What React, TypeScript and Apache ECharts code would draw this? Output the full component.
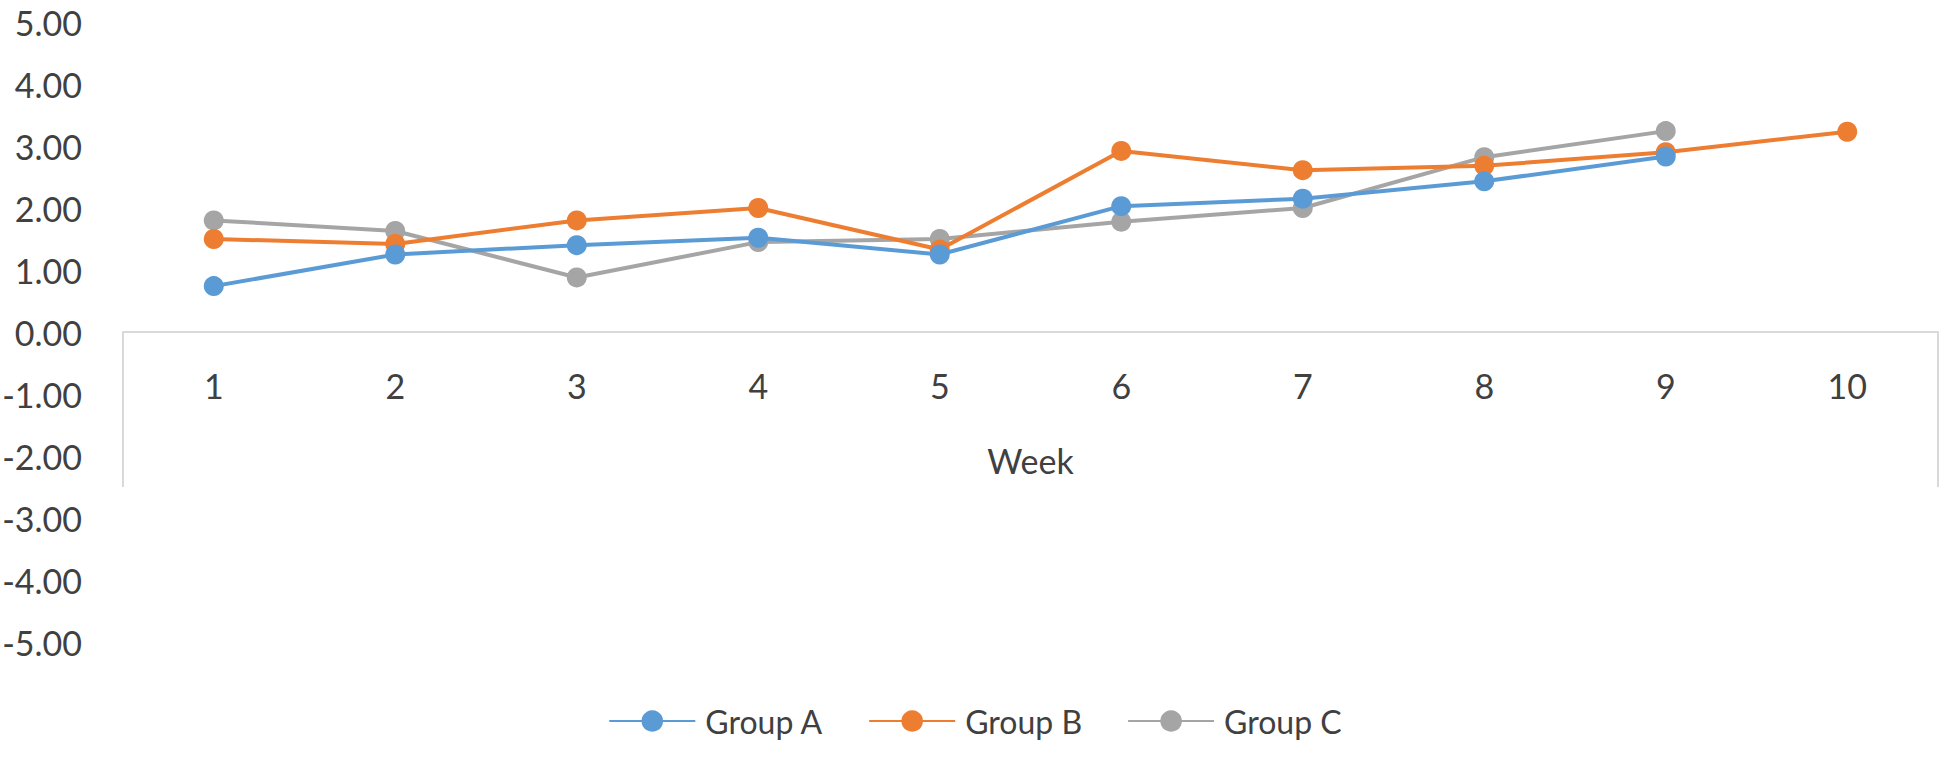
import React, { useEffect, useRef } from "react";
import * as echarts from "echarts";

const weeks = ["1", "2", "3", "4", "5", "6", "7", "8", "9", "10"];
const groupA = [0.74, 1.25, 1.4, 1.52, 1.25, 2.03, 2.15, 2.43, 2.83];
const groupB = [1.5, 1.42, 1.8, 2.0, 1.33, 2.92, 2.61, 2.68, 2.9, 3.23];
const groupC = [1.8, 1.63, 0.88, 1.45, 1.5, 1.78, 2.0, 2.82, 3.24];
const seriesNames = ["Group A", "Group B", "Group C"];
const colors = ["#5B9BD5", "#ED7D31", "#A5A5A5"];

const W = 1950;
const H = 757;
const GRID_LEFT = 123;
const GRID_RIGHT = 12;
const GRID_TOP = 22;
const GRID_BOTTOM = 115;
const FONT = "Lato, 'Open Sans', sans-serif";
const TEXT_COLOR = "#404040";
const AXIS_COLOR = "#D9D9D9";

export default function App() {
  const ref = useRef<HTMLDivElement>(null);
  useEffect(() => {
    document.body.style.margin = "0";
    if (!ref.current) return;
    const chart = echarts.init(ref.current, null, { renderer: "svg" });
    const data = [groupA, groupB, groupC];
    chart.setOption({
      animation: false,
      backgroundColor: "#ffffff",
      textStyle: { fontFamily: FONT },
      grid: {
        left: GRID_LEFT,
        right: GRID_RIGHT,
        top: GRID_TOP,
        bottom: GRID_BOTTOM,
        containLabel: false,
        outerBoundsMode: "none",
      },
      legend: {
        data: seriesNames,
        left: "center",
        top: 700,
        itemWidth: 86,
        itemHeight: 27,
        itemGap: 45,
        textStyle: { fontSize: 32, color: TEXT_COLOR, fontFamily: FONT, padding: [0, 0, 0, 5] },
      },
      xAxis: {
        type: "category",
        data: weeks,
        boundaryGap: true,
        axisLine: { show: true, onZero: false, lineStyle: { color: AXIS_COLOR, width: 2 } },
        axisTick: { show: false },
        axisLabel: { margin: 36, fontSize: 34, color: TEXT_COLOR, fontFamily: FONT },
        name: "Week",
        nameLocation: "middle",
        nameGap: 111,
        nameTextStyle: { fontSize: 34, color: TEXT_COLOR, fontFamily: FONT },
      },
      yAxis: {
        type: "value",
        min: -5,
        max: 5,
        interval: 1,
        splitLine: { show: false },
        axisLine: { show: false },
        axisTick: { show: false },
        axisLabel: {
          margin: 41,
          fontSize: 34,
          color: TEXT_COLOR,
          fontFamily: FONT,
          formatter: (v: number) => v.toFixed(2),
        },
      },
      series: seriesNames.map((name, i) => ({
        name,
        type: "line",
        data: data[i],
        symbol: "circle",
        symbolSize: 20,
        lineStyle: { color: colors[i], width: 4 },
        itemStyle: { color: colors[i] },
        z: 3 - i,
      })),
    });
    const y0 = chart.convertToPixel({ yAxisIndex: 0 }, 0) as number;
    const yEnd = chart.convertToPixel({ yAxisIndex: 0 }, -2.5) as number;
    const yBottom = H - GRID_BOTTOM;
    const xl = GRID_LEFT;
    const xr = W - GRID_RIGHT;
    chart.setOption({
      xAxis: { offset: y0 - yBottom },
      graphic: [
        {
          type: "line",
          shape: { x1: xl, y1: y0, x2: xl, y2: yEnd },
          style: { stroke: AXIS_COLOR, lineWidth: 2 },
          silent: true,
        },
        {
          type: "line",
          shape: { x1: xr, y1: y0, x2: xr, y2: yEnd },
          style: { stroke: AXIS_COLOR, lineWidth: 2 },
          silent: true,
        },
      ],
    });
    return () => chart.dispose();
  }, []);
  return <div ref={ref} style={{ width: W, height: H }} />;
}
